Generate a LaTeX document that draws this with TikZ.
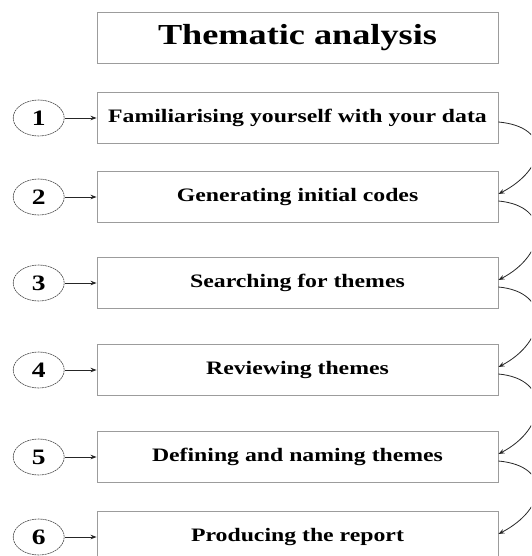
\documentclass[tikz,border=0pt]{standalone}
\usepackage{fontspec}
\setmainfont{Liberation Serif}[FakeStretch=1.25]
\usetikzlibrary{arrows.meta,shapes.geometric}
\definecolor{boxgray}{HTML}{9C9C9C}
\definecolor{ringgray}{HTML}{4A4A4A}
\begin{document}
\begin{tikzpicture}[x=1pt,y=-1pt,
  stage/.style={draw=boxgray, line width=0.9pt, minimum width=401pt,
    minimum height=51pt, inner sep=0pt,
    font=\bfseries\fontsize{19}{22}\selectfont},
  heading/.style={stage, minimum height=50.6pt,
    font=\bfseries\fontsize{29}{32}\selectfont},
  num/.style={ellipse, draw=ringgray, line width=0.6pt,
    dash pattern=on 2pt off 0.6pt, minimum width=51pt,
    minimum height=36pt, inner sep=0pt,
    font=\bfseries\fontsize{22}{24}\selectfont},
  feed/.style={-{Stealth[length=6pt,width=4.5pt]}, line width=0.8pt,
    draw=black!85}]
\clip (0,0) rectangle (531,556);

% title
\node[heading] (title) at (297.5,38) {Thematic analysis};

% the six phases with their numbers
\foreach \i/\y/\t in {1/118/Familiarising yourself with your data,
                      2/197/Generating initial codes,
                      3/283/Searching for themes,
                      4/370/Reviewing themes,
                      5/457/Defining and naming themes,
                      6/537/Producing the report}{
  \node[stage] (s\i) at (297.5,\y) {\t};
  \node[num] (n\i) at (38.7,\y) {\i};
  \draw[feed] (n\i) -- (s\i);
}

% curved links from each phase to the next
\foreach \a/\b in {1/2,2/3,3/4,4/5,5/6}{
  \draw[feed] ([yshift=-4pt]s\a.east) .. controls +(54,5) and +(48,-25) ..
    ([yshift=3pt]s\b.east);
}
\end{tikzpicture}
\end{document}
